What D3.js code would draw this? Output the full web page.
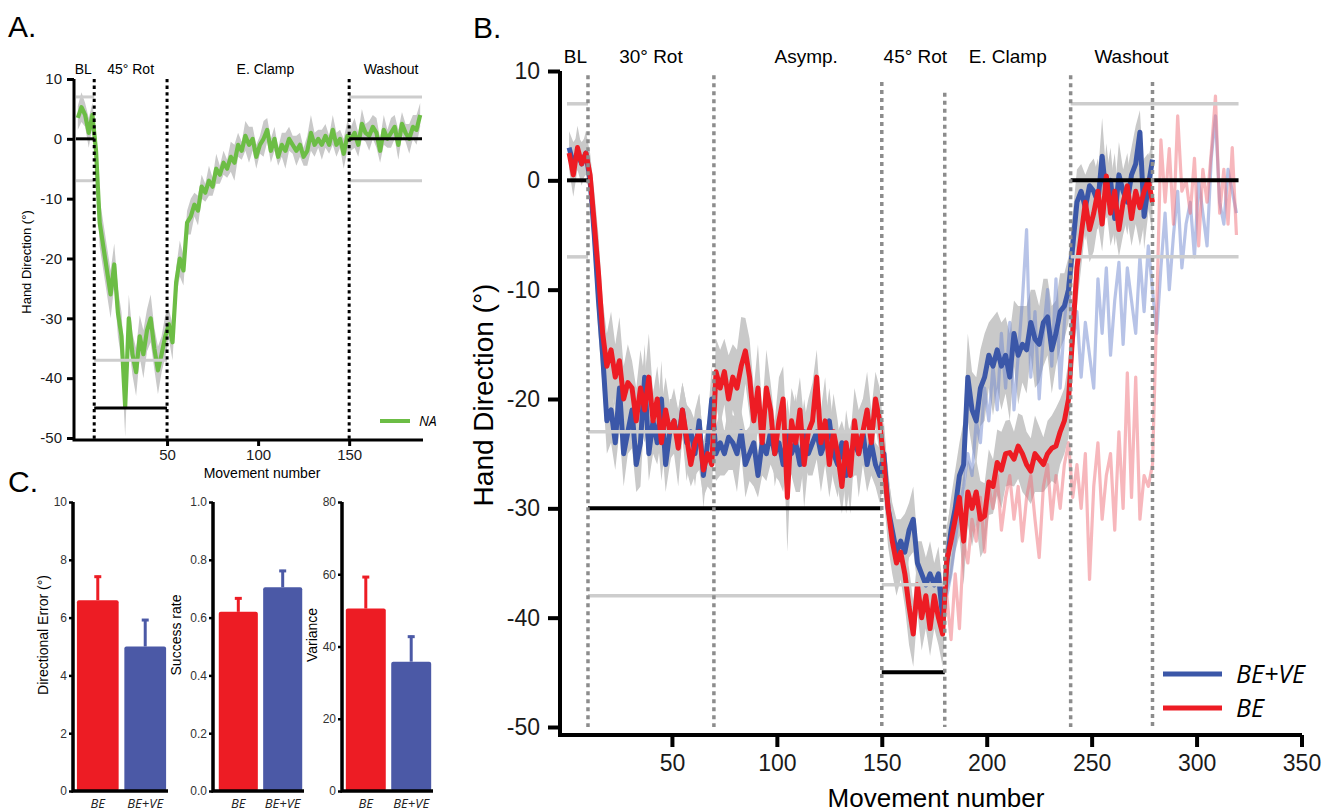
<!DOCTYPE html>
<html>
<head>
<meta charset="utf-8">
<script src="https://cdn.jsdelivr.net/npm/d3@7"></script>
<style>
  body { margin: 0; background: #fff; }
  svg { font-family: "Liberation Sans", Arial, sans-serif; }
  .ital { font-family: "Open Sans", "Liberation Sans", sans-serif; font-style: italic; }
</style>
</head>
<body>
<svg id="fig" width="1339" height="812"></svg>
<script>
// ---------------- data ----------------
// Panel A: NA group, movements 1..189 (every 2nd movement)
const greenNA = [
  3.5, 5.3, 4, 1, 4, -2, -14, -18, -22, -26,
  -21, -29, -33, -44.8, -30, -36, -39, -33, -36, -32,
  -30, -35, -38.7, -36, -33, -31, -34, -24, -20, -22,
  -14, -13, -11, -12, -8, -9, -7, -8, -5, -6,
  -4, -5, -3, -4, -1, -2, 0.5, -1, 0, -3,
  -1, 0, 1.5, -2, 0, -3, -1, -2, 0, -1,
  -2, -1, -3, -2, 1, -1, 0, -1, 0.5, -1,
  1.5, -1, 0, -2.5, 0.5, 0, 1, -1, 2.5, 1,
  0.5, 2, 1, -2, 1.5, 0, 1, 2, -1, 2.5,
  1, 0, 2, 1.5, 4
];
const semNA = [
  2, 2.5, 2, 2.5, 2,
  3, 4, 4, 4, 4, 3.5, 4, 4, 5, 4, 3.5, 4, 3.5, 4, 3.5, 4, 3.5, 4, 3, 3.5,
  2.5, 3, 2.5, 3, 2.5, 2, 3, 2, 2.5, 2, 1.5, 2.5, 1.5, 2.5, 1.5, 2, 1.5, 2.5, 3, 2,
  1.5, 2.5, 3, 2, 2, 1.5, 3, 2, 2, 2, 1.5, 2, 3, 2, 1.5, 2.5, 2, 1.5, 2.5, 3,
  2, 1.5, 2.5, 2, 1.5, 2.5, 2, 1.5, 2.5, 2.5,
  2, 2.5, 2, 2.5, 1.5, 2.5, 2, 2.5, 2, 2.5, 1.5, 2.5, 2, 2.5, 2, 1.5, 2.5, 2, 2.5, 2
];
const phaseBoundsA = [10, 50, 150];
const phaseLabelsA = ["BL", "45° Rot", "E. Clamp", "Washout"];
const phaseLabelPosA = [4, 30, 104, 173];
const targetsA = [[0, 10, 0], [10, 50, -45], [150, 190, 0]];
const limitsA = [[0, 10, 7], [0, 10, -7], [10, 50, -37], [150, 190, 7], [150, 190, -7]];

// Panel B: group means, movements 1..279 (every 2nd movement)
const blueBEVE = [
  3, 1.5, 2.5, 1.5, 2.5, 0, -5, -11, -16, -22,
  -21, -24, -19, -25, -23, -21, -26, -24, -18, -25,
  -22, -24, -20, -26, -23, -22, -24, -21, -24, -23,
  -25, -22, -27, -24, -20, -25, -24, -25, -23.5, -24,
  -25, -23, -26, -25, -24, -27, -24, -25, -23, -25,
  -24, -26, -23, -25, -24, -26, -23, -25, -24, -23,
  -25, -24, -22, -25, -26, -24, -27, -25, -24, -25,
  -23, -26, -24, -26, -27, -25, -30, -32, -34, -33,
  -34, -32, -31, -35, -36, -37, -36, -37, -36, -40,
  -35, -32, -30, -27, -26, -18, -21, -22, -19, -18,
  -16, -17, -15.5, -17, -16, -18, -14, -16, -15, -15.5,
  -13, -14.5, -15, -13, -12.5, -15.5, -14, -12, -11.5, -10,
  -6, -2, -1, -2.5, -0.5, -1, -2, 2.2, -1.5, 0,
  -3.5, 0.5, -1, -2, 0.5, 1.5, 4.4, -3.3, -0.5, 1.9
];
const semBEVE = [
  1.5, 2, 1.5, 2, 1.5,
  2, 3, 3, 3, 3, 3, 2.5, 4, 3, 2, 3.5, 2.5, 4, 3, 2.5, 3, 2, 3.5, 2.5, 3, 2, 3, 2.5, 3.5, 2, 3, 2.5, 3, 2, 3,
  2.5, 3, 2, 3, 2.5, 3.5, 2, 3, 2.5, 4, 2, 3, 2.5, 3, 2, 3.5, 2.5, 3, 2, 4.5,
  2.5, 3, 2, 3, 2.5, 3.5, 2, 3, 2.5, 3, 2, 3.5, 2.5, 3, 2, 3, 2.5, 3, 2, 2.5,
  3, 3, 2.5, 3, 2, 3.5, 2.5, 3, 2, 3, 2.5, 3, 2, 2.5, 3,
  3, 3, 3.5, 3, 4, 4, 3.5, 4, 3.5, 4, 3, 4.5, 3.5, 4, 3.5, 4, 3, 4.5, 3.5, 4, 3, 4.5, 3.5, 4, 3.5, 4, 3, 3.5, 3, 3,
  3, 3, 2.5, 3, 2, 3, 2.5, 3.5, 2, 3, 2.5, 3, 2, 3, 2.5, 3.5, 2, 3, 2.5, 2
];
const redBE = [
  2.5, 0.5, 3, 1.5, 2.5, 0.5, -4, -8.5, -14, -17,
  -15.5, -18, -16.5, -20, -18.5, -19, -22, -19, -21, -18,
  -22, -20, -24, -21, -23, -22, -24.5, -21, -23.5, -26,
  -24, -23, -26.5, -25, -26, -17.5, -19, -17.5, -20, -18,
  -19, -17, -15.6, -18, -22, -19, -24, -19, -21, -25,
  -22, -20, -29, -22, -24, -21, -26, -23, -22, -18,
  -24, -22, -26, -23, -25, -28, -24, -27, -22, -25,
  -23, -21, -24, -20, -22, -26, -30, -33, -35, -34,
  -36, -39, -41.5, -37, -40, -38, -41, -38, -40, -41.5,
  -34.7, -33, -31, -29, -33, -28.5, -30, -28.5, -31, -30.7,
  -27.6, -28, -25.8, -26.5, -25, -24.9, -25.5, -24.3, -25, -26,
  -26.6, -25, -25.5, -26, -25, -24.5, -24.3, -23, -22, -20,
  -14, -8, -5, -2, -4.5, -3, -1, -4, 0.4, -3,
  -1, -4.5, -2, -0.5, -3.5, -1, -2.5, -1, 0, -2
];
const semBE = [
  1.5, 2, 2, 1.5, 2,
  2, 3, 3.5, 3, 3, 3.5, 3, 4, 3, 3.5, 2.5, 3, 3.5, 3, 4, 2.5, 3, 3.5, 3, 2.5, 3, 3.5, 2.5, 3, 2, 3, 3.5, 2.5, 3, 2.5,
  3, 3.5, 3, 4, 3, 3.5, 4.5, 3, 3.5, 3, 4, 3, 3.5, 2.5, 3, 4, 3, 5, 3, 3.5,
  3, 4, 3, 3.5, 2.5, 3, 4, 3, 3.5, 3, 2.5, 3, 3.5, 3, 4, 3, 3.5, 3, 2.5, 3,
  3, 3.5, 3, 3, 2.5, 3, 3.5, 3, 2.5, 3, 3, 2.5, 3, 2.5, 3,
  3, 3.5, 3, 3.5, 4, 3, 3.5, 3, 3.5, 3, 3, 2.5, 3, 3.5, 3, 3, 2.5, 3, 3.5, 3, 3, 3.5, 3, 2.5, 3, 3, 3.5, 3, 3, 3.5,
  3, 3.5, 3, 2.5, 3, 3.5, 3, 2.5, 3, 3, 3.5, 2.5, 3, 3, 2.5, 3, 3.5, 3, 2.5, 3
];
// faint traces, movements 181..319 (every 2nd movement)
const blueFaint = [
  -38, -36, -33, -30, -28, -25, -27, -22, -24, -19,
  -22, -17, -21, -14, -19, -13, -21, -16, -11, -4.5,
  -18, -12, -20, -14, -10, -17, -9, -19, -13, -9,
  -15, -12, -18, -13, -16, -19, -9, -14, -8, -16,
  -11, -7.5, -15, -8, -11, -14, -7, -12, -6, -10,
  -14, -8, -3, -10, -5, -1, -8, -4, -2, -7,
  0, -3, -6, 2, 5.9, -2, -4, 1, -1, -3
];
const redFaint = [
  -38, -42, -36, -41, -33, -35, -31, -33, -29, -34,
  -28, -30, -27, -32, -29, -27, -31, -28, -33, -29,
  -27, -31, -34.5, -28, -26, -31, -27, -30, -26, -24,
  -29, -26, -30, -25, -36.5, -28, -24, -31, -27, -25,
  -32, -23, -30, -17.6, -29, -18, -31, -27, -28, -26,
  -12, 3.7, -2, 2.9, -4, 5.9, -1, 0, -3, 2,
  -6, 1, -2, 2.5, 7.7, -3, 1, -4, 3, -5
];
const phaseBoundsB = [10, 70, 150, 180, 240, 279];
const phaseLabelsB = ["BL", "30° Rot", "Asymp.", "45° Rot", "E. Clamp", "Washout"];
const phaseLabelPosB = [4, 40, 114, 166, 210, 269];
const targetsB = [[0, 10, 0], [10, 150, -30], [150, 180, -45], [240, 320, 0]];
const limitsB = [[0, 10, 7], [0, 10, -7], [10, 150, -23], [10, 150, -38], [150, 180, -37], [240, 320, 7], [240, 320, -7]];
const legendB = ["BE+VE", "BE"];

// Panel C: summary bars
const groupsC = ["BE", "BE+VE"];
const dirError = [6.6, 5.0];
const dirErrorSE = [0.85, 0.95];
const successRate = [0.62, 0.705];
const successRateSE = [0.05, 0.06];
const varianceC = [50.5, 35.8];
const varianceSE = [9, 7.2];

// ---------------- drawing ----------------
const RED = "#ed1c24", BLUE = "#3b57a8", GREEN = "#6cbd45", BAND = "#c9c9c9", REFGRAY = "#cdcdcd";
const BARBLUE = "#4b59a6";
const svg = d3.select("#fig");
const dash = v => String(v);

function styleAxis(g, fontSize, tickW) {
  g.select(".domain").remove();
  g.selectAll(".tick line").attr("stroke", "#000").attr("stroke-width", tickW);
  g.selectAll(".tick text").attr("font-size", fontSize).attr("fill", "#1a1a1a")
    .attr("font-family", "Liberation Sans, Arial, sans-serif");
}

// ======== Panel A ========
const gA = svg.append("g");
const xA = d3.scaleLinear().domain([0, 190]).range([76, 422]);
const yA = d3.scaleLinear().domain([-50, 10]).range([438, 79]);
const movesA = greenNA.map((d, i) => 1 + 2 * i);

gA.append("path").datum(greenNA)
  .attr("d", d3.area().x((d, i) => xA(movesA[i])).y0((d, i) => yA(d - semNA[i])).y1((d, i) => yA(d + semNA[i])))
  .attr("fill", BAND);
gA.append("path").datum(greenNA)
  .attr("d", d3.line().x((d, i) => xA(movesA[i])).y(d => yA(d)))
  .attr("fill", "none").attr("stroke", GREEN).attr("stroke-width", 4.2).attr("stroke-linejoin", "round");

limitsA.forEach(l => {
  gA.append("line").attr("x1", xA(l[0])).attr("x2", xA(l[1])).attr("y1", yA(l[2])).attr("y2", yA(l[2]))
    .attr("stroke", REFGRAY).attr("stroke-width", 3);
});
targetsA.forEach(t => {
  gA.append("line").attr("x1", xA(t[0])).attr("x2", xA(t[1])).attr("y1", yA(t[2])).attr("y2", yA(t[2]))
    .attr("stroke", "#000").attr("stroke-width", 3);
});
phaseBoundsA.forEach(b => {
  gA.append("line").attr("x1", xA(b)).attr("x2", xA(b)).attr("y1", yA(10)).attr("y2", 440)
    .attr("stroke", "#000").attr("stroke-width", 3).attr("stroke-dasharray", "3.3,3.3");
});
phaseLabelsA.forEach((t, i) => {
  gA.append("text").attr("x", xA(phaseLabelPosA[i])).attr("y", 74).attr("text-anchor", "middle")
    .attr("font-size", 14).text(t);
});

const yAxA = gA.append("g").attr("transform", "translate(74,0)")
  .call(d3.axisLeft(yA).tickValues([10, 0, -10, -20, -30, -40, -50]).tickFormat(dash).tickSize(7).tickPadding(5));
styleAxis(yAxA, 15, 3);
const xAxA = gA.append("g").attr("transform", "translate(0,440)")
  .call(d3.axisBottom(xA).tickValues([50, 100, 150]).tickFormat(dash).tickSize(6).tickPadding(3));
styleAxis(xAxA, 15, 3);
gA.append("path").attr("d", "M74,79V440H423").attr("fill", "none").attr("stroke", "#000").attr("stroke-width", 3);

gA.append("text").attr("transform", "translate(31,262) rotate(-90)").attr("text-anchor", "middle")
  .attr("font-size", 13).text("Hand Direction (°)");
gA.append("text").attr("x", 262).attr("y", 478).attr("text-anchor", "middle")
  .attr("font-size", 14).text("Movement number");
gA.append("line").attr("x1", 380).attr("x2", 410).attr("y1", 421).attr("y2", 421)
  .attr("stroke", GREEN).attr("stroke-width", 4);
gA.append("text").attr("class", "ital").attr("x", 419).attr("y", 426).attr("font-size", 14).text("NA");
svg.append("text").attr("x", 8).attr("y", 37).attr("font-size", 30).text("A.");

// ======== Panel B ========
const gB = svg.append("g");
const xB = d3.scaleLinear().domain([0, 350]).range([567, 1301.5]);
const yB = d3.scaleLinear().domain([-50, 10]).range([727, 71]);
const movesB = blueBEVE.map((d, i) => 1 + 2 * i);
const movesF = blueFaint.map((d, i) => 181 + 2 * i);

function band(vals, sem) {
  gB.append("path").datum(vals)
    .attr("d", d3.area().x((d, i) => xB(movesB[i])).y0((d, i) => yB(d - sem[i])).y1((d, i) => yB(d + sem[i])))
    .attr("fill", BAND);
}
function trace(vals, moves, color, w, op) {
  gB.append("path").datum(vals)
    .attr("d", d3.line().x((d, i) => xB(moves[i])).y(d => yB(d)))
    .attr("fill", "none").attr("stroke", color).attr("stroke-width", w)
    .attr("stroke-linejoin", "round").attr("stroke-opacity", op);
}
band(blueBEVE, semBEVE);
band(redBE, semBE);
trace(blueFaint, movesF, "#6f88cf", 3.2, 0.5);
trace(redFaint, movesF, "#f0707a", 3.2, 0.5);
trace(blueBEVE, movesB, BLUE, 5, 1);
trace(redBE, movesB, RED, 5, 1);

limitsB.forEach(l => {
  gB.append("line").attr("x1", xB(l[0])).attr("x2", xB(l[1])).attr("y1", yB(l[2])).attr("y2", yB(l[2]))
    .attr("stroke", REFGRAY).attr("stroke-width", 3.5);
});
targetsB.forEach(t => {
  gB.append("line").attr("x1", xB(t[0])).attr("x2", xB(t[1])).attr("y1", yB(t[2])).attr("y2", yB(t[2]))
    .attr("stroke", "#000").attr("stroke-width", 4);
});
const dotTop = {10: 9.6, 70: 9.6, 150: 9, 180: 8, 240: 9.6, 279: 9};
phaseBoundsB.forEach(b => {
  gB.append("line").attr("x1", xB(b)).attr("x2", xB(b)).attr("y1", yB(dotTop[b])).attr("y2", 727)
    .attr("stroke", "#8c8c8c").attr("stroke-width", 3.5).attr("stroke-dasharray", "4,4");
});
phaseLabelsB.forEach((t, i) => {
  gB.append("text").attr("x", xB(phaseLabelPosB[i])).attr("y", 63).attr("text-anchor", "middle")
    .attr("font-size", 19).text(t);
});

const yAxB = gB.append("g").attr("transform", "translate(560,0)")
  .call(d3.axisLeft(yB).tickValues([10, 0, -10, -20, -30, -40, -50]).tickFormat(dash).tickSize(12).tickPadding(8));
styleAxis(yAxB, 23, 4);
const xAxB = gB.append("g").attr("transform", "translate(0,735)")
  .call(d3.axisBottom(xB).tickValues([50, 100, 150, 200, 250, 300, 350]).tickFormat(dash).tickSize(12).tickPadding(8));
styleAxis(xAxB, 23, 4);
gB.append("path").attr("d", "M560,71V735H1302").attr("fill", "none").attr("stroke", "#000").attr("stroke-width", 4);

gB.append("text").attr("transform", "translate(493,395) rotate(-90)").attr("text-anchor", "middle")
  .attr("font-size", 28).text("Hand Direction (°)");
gB.append("text").attr("x", 936).attr("y", 807).attr("text-anchor", "middle")
  .attr("font-size", 26).text("Movement number");

[BLUE, RED].forEach((c, i) => {
  const y = 674 + i * 34;
  gB.append("line").attr("x1", 1163).attr("x2", 1222).attr("y1", y).attr("y2", y)
    .attr("stroke", c).attr("stroke-width", 5);
  gB.append("text").attr("class", "ital").attr("x", 1236).attr("y", y + 9)
    .attr("font-size", 25).text(legendB[i]);
});
svg.append("text").attr("x", 473).attr("y", 38).attr("font-size", 30).text("B.");

// ======== Panel C ========
const yCpx = [791, 502];
const chartsC = [
  {ax: 73, x0: 75, x1: 168, max: 10, vals: dirError, se: dirErrorSE, ticks: [0, 2, 4, 6, 8, 10], fmt: dash,
   label: "Directional Error (°)", lx: 48},
  {ax: 213, x0: 217, x1: 304, max: 1, vals: successRate, se: successRateSE, ticks: [0, 0.2, 0.4, 0.6, 0.8, 1.0],
   fmt: d3.format(".1f"), label: "Success rate", lx: 181},
  {ax: 342, x0: 344, x1: 433, max: 80, vals: varianceC, se: varianceSE, ticks: [0, 20, 40, 60, 80], fmt: dash,
   label: "Variance", lx: 317}
];
chartsC.forEach(c => {
  const g = svg.append("g");
  const y = d3.scaleLinear().domain([0, c.max]).range(yCpx);
  const x = d3.scaleBand().domain(groupsC).range([c.x0, c.x1]).paddingInner(0.12).paddingOuter(0.04);
  const cols = [RED, BARBLUE];
  groupsC.forEach((grp, i) => {
    const cx = x(grp) + x.bandwidth() / 2;
    const top = y(c.vals[i] + c.se[i]);
    g.append("line").attr("x1", cx).attr("x2", cx).attr("y1", top).attr("y2", y(c.vals[i]))
      .attr("stroke", cols[i]).attr("stroke-width", 3);
    g.append("line").attr("x1", cx - 3.5).attr("x2", cx + 3.5).attr("y1", top + 1).attr("y2", top + 1)
      .attr("stroke", cols[i]).attr("stroke-width", 3);
    g.append("rect").attr("x", x(grp)).attr("width", x.bandwidth())
      .attr("y", y(c.vals[i])).attr("height", y(0) - y(c.vals[i]))
      .attr("rx", 2).attr("fill", cols[i]);
    g.append("text").attr("class", "ital").attr("x", cx).attr("y", 808).attr("text-anchor", "middle")
      .attr("font-size", 13).attr("fill", "#222").text(grp);
  });
  const ax = g.append("g").attr("transform", `translate(${c.ax},0)`)
    .call(d3.axisLeft(y).tickValues(c.ticks).tickFormat(c.fmt).tickSize(4).tickPadding(2));
  styleAxis(ax, 12, 2.5);
  ax.selectAll(".tick text").attr("fill", "#333");
  g.append("path").attr("d", `M${c.ax},502V791H${c.x1}`).attr("fill", "none").attr("stroke", "#000").attr("stroke-width", 3.5);
  g.append("text").attr("transform", `translate(${c.lx},635) rotate(-90)`).attr("text-anchor", "middle")
    .attr("font-size", 14).text(c.label);
});
svg.append("text").attr("x", 8).attr("y", 492).attr("font-size", 30).text("C.");
</script>
</body>
</html>
